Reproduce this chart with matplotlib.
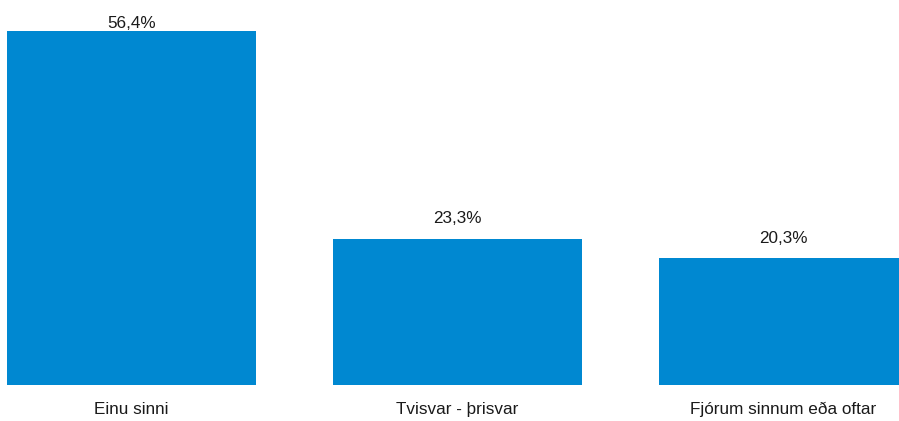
import matplotlib.pyplot as plt
import numpy as np

categories = ['Einu sinni', 'Tvisvar - þrisvar', 'Fjórum sinnum eða oftar']
values = [56.4, 23.3, 20.3]
labels = ['56,4%', '23,3%', '20,3%']

plt.rcParams['font.family'] = ['Liberation Sans Narrow', 'Liberation Sans', 'DejaVu Sans']

fig = plt.figure(figsize=(8.99, 4.21), dpi=100)
ax = fig.add_axes([0, 36/421, 1, 385/421])

x = np.arange(len(categories))
bars = ax.bar(x, values, width=0.764, color='#0088D1')

# label gap above bar in pixels (first one is squeezed at the top)
gaps = [0, 13, 12]
for b, lab, g in zip(bars, labels, gaps):
    ax.annotate(lab, (b.get_x() + b.get_width()/2, b.get_height()),
                xytext=(0, g*0.72), textcoords='offset points',
                ha='center', va='bottom', fontsize=12.3, color='#1a1a1a')

ax.set_xlim(-0.403, 2.354)
ax.set_ylim(0, 61.33)
ax.set_xticks(x)
ax.set_xticklabels(categories, fontsize=12.3, color='#1a1a1a')
ax.tick_params(axis='x', length=0, pad=12)
ax.set_yticks([])
for s in ax.spines.values():
    s.set_visible(False)

fig.savefig('out.png', dpi=100)
